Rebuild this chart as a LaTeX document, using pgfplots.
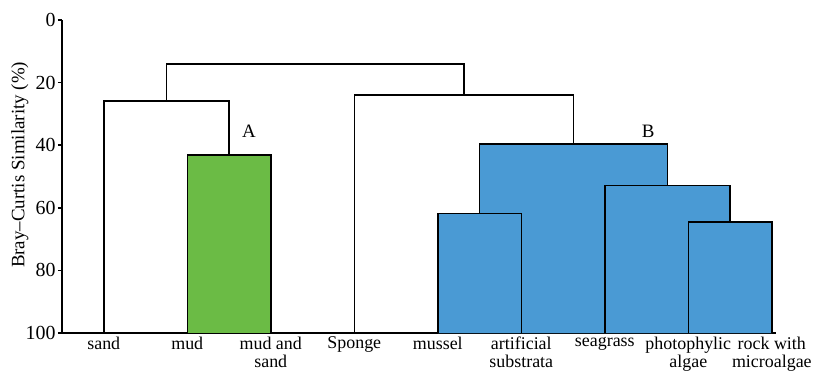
\documentclass[border=0pt]{standalone}
\usepackage{pgfplots}
\pgfplotsset{compat=1.18}
\usepackage{fontspec}
\setmainfont{Liberation Serif}
\definecolor{cgreen}{RGB}{107,187,69}
\definecolor{cblue}{RGB}{74,154,212}
\begin{document}
\begin{tikzpicture}
\begin{axis}[
  scale only axis,
  width=714bp, height=313bp,
  xmin=0.5, xmax=9.05,
  ymin=0, ymax=100,
  y dir=reverse,
  axis lines=left,
  axis line style={-, line width=1.5bp},
  clip=false,
  ytick={0,20,40,60,80,100},
  xtick={1,2,3,4,5,6,7,8,9},
  xticklabels={sand,mud,{mud and\\sand},Sponge,mussel,{artificial\\substrata},seagrass,{photophylic\\algae},{rock with\\microalgae}},
  xticklabel style={align=center, font=\fontsize{18}{18}\selectfont, yshift=3.5bp},
  yticklabel style={font=\fontsize{20}{21}\selectfont, xshift=1bp},
  /pgf/number format/assume math mode=true,
  major x tick style={draw=none},
  major y tick style={line width=1.5bp, black},
  tick align=outside,
  major tick length=4bp,
  ylabel={Bray--Curtis Similarity (\%)},
  ylabel style={font=\fontsize{19}{20}\selectfont, at={(axis description cs:-0.059,0.537)}, anchor=center},
]
% filled clusters
\addplot[fill=cgreen, draw=none] coordinates {(2,100)(2,43.2)(3,43.2)(3,100)} -- cycle;
\addplot[fill=cblue, draw=none] coordinates {(5,100)(5,61.9)(5.5,61.9)(5.5,39.6)(7.75,39.6)(7.75,52.9)(8.5,52.9)(8.5,64.6)(9,64.6)(9,100)} -- cycle;
% dendrogram lines
\addplot[black, line width=1.5bp, mark=none] coordinates {(2,100)(2,43.2)(3,43.2)(3,100)};
\addplot[black, line width=1.5bp, mark=none] coordinates {(1,100)(1,25.8)(2.5,25.8)(2.5,43.2)};
\addplot[black, line width=1.5bp, mark=none] coordinates {(5,100)(5,61.9)(6,61.9)(6,100)};
\addplot[black, line width=1.5bp, mark=none] coordinates {(8,100)(8,64.6)(9,64.6)(9,100)};
\addplot[black, line width=1.5bp, mark=none] coordinates {(7,100)(7,52.9)(8.5,52.9)(8.5,64.6)};
\addplot[black, line width=1.5bp, mark=none] coordinates {(5.5,61.9)(5.5,39.6)(7.75,39.6)(7.75,52.9)};
\addplot[black, line width=1.5bp, mark=none] coordinates {(4,100)(4,23.9)(6.625,23.9)(6.625,39.6)};
\addplot[black, line width=1.5bp, mark=none] coordinates {(1.75,25.8)(1.75,14)(5.3125,14)(5.3125,23.9)};
\node[font=\fontsize{19}{20}\selectfont] at (axis cs:2.74,35.5) {A};
\node[font=\fontsize{19}{20}\selectfont] at (axis cs:7.52,35.5) {B};
\coordinate (bl) at (axis cs:0.5,100);
\coordinate (tr) at (axis cs:9.05,0);
\end{axis}
\pgfresetboundingbox
\path[use as bounding box] ([xshift=-62bp,yshift=-40bp]bl) rectangle ([xshift=41bp,yshift=20bp]tr);
\end{tikzpicture}
\end{document}
